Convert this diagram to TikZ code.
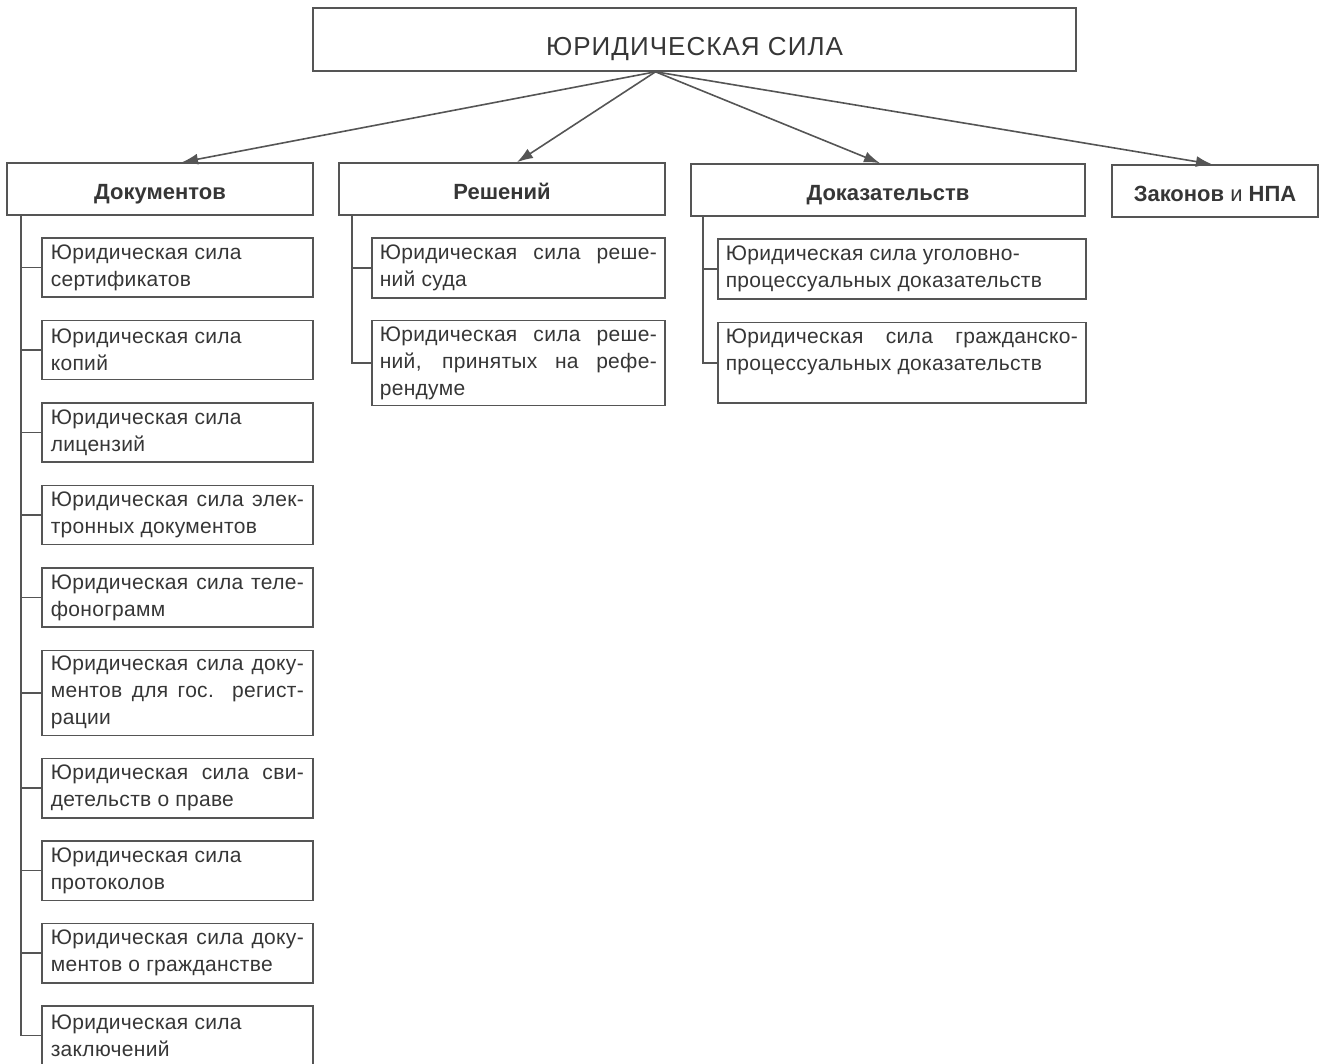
\documentclass[tikz,border=0pt]{standalone}
\usepackage{fontspec}
\setmainfont{Liberation Sans}
\newfontfamily\titlefont[LetterSpace=4]{Liberation Sans}
\newfontfamily\itemfont[LetterSpace=1.5]{Liberation Sans}
\usetikzlibrary{arrows.meta,positioning}
\definecolor{inkgray}{HTML}{363636}
\definecolor{linegray}{HTML}{555555}
\tolerance=9999
\hbadness=10000

\tikzset{
  titlebox/.style = {draw=linegray, line width=1.6pt, minimum width=763pt,
    minimum height=63pt, text height=31pt, text depth=0pt, text=inkgray,
    font=\titlefont\fontsize{26}{30}\selectfont},% boite du titre
  catbox/.style = {draw=linegray, line width=1.6pt, minimum height=52pt,
    text height=20pt, text depth=0pt, text=inkgray,
    font=\fontsize{22}{26}\selectfont\bfseries},% categorie
  itembox/.style = {draw=linegray, line width=1.6pt, anchor=north west,
    inner ysep=6pt, align=justify, text=inkgray,
    font=\itemfont\fontsize{21}{27}\selectfont},% element
  docitem/.style = {itembox, text width=253pt, inner xsep=9pt, minimum height=59.3pt},
  decitem/.style = {itembox, text width=277pt, inner xsep=8pt, minimum height=60pt},
  eviditem/.style = {itembox, text width=352pt, inner xsep=8pt, minimum height=60pt},
  feed/.style = {draw=linegray, line width=1.6pt, -{Latex[length=16pt,width=11pt]}},
  bus/.style = {draw=linegray, line width=1.6pt}
}

\begin{document}
\begin{tikzpicture}[x=1pt, y=-1pt]
  \useasboundingbox (0,0) rectangle (1324,1063);

  \node [titlebox] (top) at (694.5,39.5) {ЮРИДИЧЕСКАЯ СИЛА};

  \node [catbox, minimum width=306pt] (docs) at (160,189) {Документов};
  \node [catbox, minimum width=326pt] (decs) at (502,189) {Решений};
  \node [catbox, minimum width=394pt] (evid) at (888,190) {Доказательств};
  \node [catbox, minimum width=206pt] (laws) at (1215,191) {Законов {\mdseries и} НПА};

  \coordinate (src) at ([xshift=-39pt]top.south);
  \draw [feed] (src) -- ([xshift=22pt]docs.north);
  \draw [feed] (src) -- ([xshift=15pt]decs.north);
  \draw [feed] (src) -- ([xshift=-8pt]evid.north);
  \draw [feed] (src) -- ([xshift=-3pt]laws.north);

  % documents
  \node [docitem] (d1) at (41,237) {Юридическая сила\\сертификатов};
  \node [docitem, below=21.6pt of d1] (d2) {Юридическая сила\\копий};
  \node [docitem, below=21.6pt of d2] (d3) {Юридическая сила\\лицензий};
  \node [docitem, below=21.6pt of d3] (d4) {Юридическая сила элек-\linebreak тронных документов};
  \node [docitem, below=21.6pt of d4] (d5) {Юридическая сила теле-\linebreak фонограмм};
  \node [docitem, below=21.6pt of d5] (d6) {Юридическая сила доку-\linebreak ментов для гос. регист-\linebreak рации};
  \node [docitem, below=21.6pt of d6] (d7) {Юридическая сила сви-\linebreak детельств о праве};
  \node [docitem, below=21.6pt of d7] (d8) {Юридическая сила\\протоколов};
  \node [docitem, below=21.6pt of d8] (d9) {Юридическая сила доку-\linebreak ментов о гражданстве};
  \node [docitem, below=21.6pt of d9] (d10) {Юридическая сила\\заключений};

  \coordinate (docbus) at ([xshift=15pt]docs.south west);
  \draw [bus] (docbus) |- (d10.west);
  \draw [bus] (d1.west) -- (d1.west -| docbus);
  \draw [bus] (d2.west) -- (d2.west -| docbus);
  \draw [bus] (d3.west) -- (d3.west -| docbus);
  \draw [bus] (d4.west) -- (d4.west -| docbus);
  \draw [bus] (d5.west) -- (d5.west -| docbus);
  \draw [bus] (d6.west) -- (d6.west -| docbus);
  \draw [bus] (d7.west) -- (d7.west -| docbus);
  \draw [bus] (d8.west) -- (d8.west -| docbus);
  \draw [bus] (d9.west) -- (d9.west -| docbus);

  % decisions
  \node [decitem] (r1) at (371,237) {Юридическая сила реше-\linebreak ний суда};
  \node [decitem, below=21pt of r1] (r2) {Юридическая сила реше-\linebreak ний, принятых на рефе-\linebreak рендуме};

  \coordinate (decbus) at ([xshift=14pt]decs.south west);
  \draw [bus] (decbus) |- (r2.west);
  \draw [bus] (r1.west) -- (r1.west -| decbus);

  % evidence
  \node [eviditem] (p1) at (717,238) {Юридическая сила уголовно-\\процессуальных доказательств};
  \node [eviditem, below=22pt of p1] (p2) {Юридическая сила гражданско-\linebreak процессуальных доказательств\\\mbox{}};

  \coordinate (evidbus) at ([xshift=13pt]evid.south west);
  \draw [bus] (evidbus) |- (p2.west);
  \draw [bus] (p1.west) -- (p1.west -| evidbus);
\end{tikzpicture}
\end{document}
